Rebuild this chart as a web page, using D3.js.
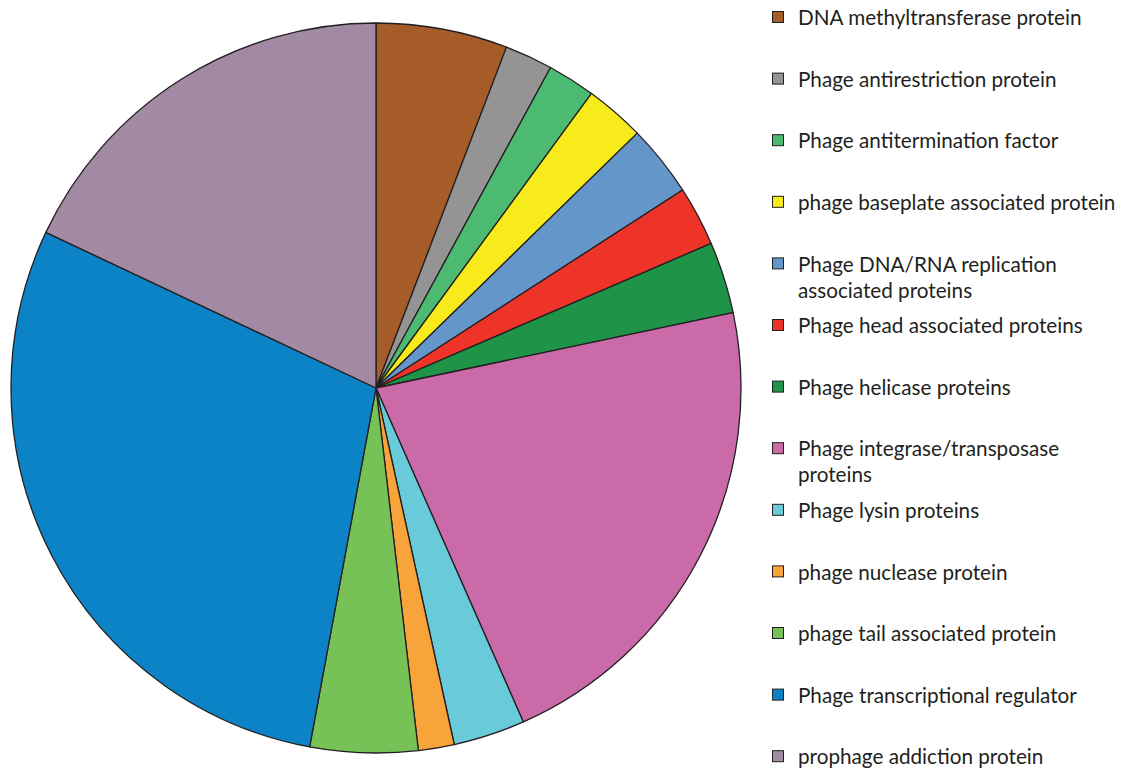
<!DOCTYPE html>
<html>
<head>
<meta charset="utf-8">
<script src="https://cdn.jsdelivr.net/npm/d3@7"></script>
<style>
  html, body { margin: 0; padding: 0; background: #fff; }
  svg text { font-family: Lato, "Open Sans", sans-serif; fill: #231f20; }
</style>
</head>
<body>
<svg id="chart" width="1129" height="768"></svg>
<script>
// Categories of phage-related proteins and their counts
const categories = [
  "DNA methyltransferase protein",
  "Phage antirestriction protein",
  "Phage antitermination factor",
  "phage baseplate associated protein",
  "Phage DNA/RNA replication associated proteins",
  "Phage head associated proteins",
  "Phage helicase proteins",
  "Phage integrase/transposase proteins",
  "Phage lysin proteins",
  "phage nuclease protein",
  "phage tail associated protein",
  "Phage transcriptional regulator",
  "prophage addiction protein"
];
const counts = [11, 4, 4, 5, 6, 5, 6, 41, 6, 3, 9, 55, 34];
const colors = [
  "#a65c28", "#949494", "#4cba70", "#f7eb1c", "#6496c9", "#ee3428",
  "#1f9448", "#cb6aa9", "#69cad9", "#f8a43a", "#76c256", "#0b83c6", "#a38aa4"
];
// Legend labels broken over lines where the text wraps
const legendLines = [
  ["DNA methyltransferase protein"],
  ["Phage antirestriction protein"],
  ["Phage antitermination factor"],
  ["phage baseplate associated protein"],
  ["Phage DNA/RNA replication", "associated proteins"],
  ["Phage head associated proteins"],
  ["Phage helicase proteins"],
  ["Phage integrase/transposase", "proteins"],
  ["Phage lysin proteins"],
  ["phage nuclease protein"],
  ["phage tail associated protein"],
  ["Phage transcriptional regulator"],
  ["prophage addiction protein"]
];

const svg = d3.select("#chart");
const cx = 376, cy = 388, r = 365;

const pie = d3.pie().sort(null).value(d => d.v);
const arc = d3.arc().innerRadius(0).outerRadius(r);
const data = categories.map((c, i) => ({ c, v: counts[i], col: colors[i] }));

svg.append("g")
  .attr("transform", `translate(${cx},${cy})`)
  .selectAll("path")
  .data(pie(data))
  .join("path")
  .attr("d", arc)
  .attr("fill", d => d.data.col)
  .attr("stroke", "#231f20")
  .attr("stroke-width", 1.3)
  .attr("stroke-linejoin", "round");

// Legend
const y0 = 18, step = 61.6, lineGap = 26;
const leg = svg.append("g");
legendLines.forEach((lines, i) => {
  const y = y0 + i * step;
  leg.append("rect")
    .attr("x", 772.5).attr("y", y - 6.5)
    .attr("width", 11).attr("height", 11)
    .attr("fill", colors[i])
    .attr("stroke", "#231f20").attr("stroke-width", 1);
  lines.forEach((t, j) => {
    leg.append("text")
      .attr("x", 798).attr("y", y + j * lineGap)
      .attr("dy", "0.35em")
      .attr("font-size", 20.7)
      .text(t);
  });
});
</script>
</body>
</html>
